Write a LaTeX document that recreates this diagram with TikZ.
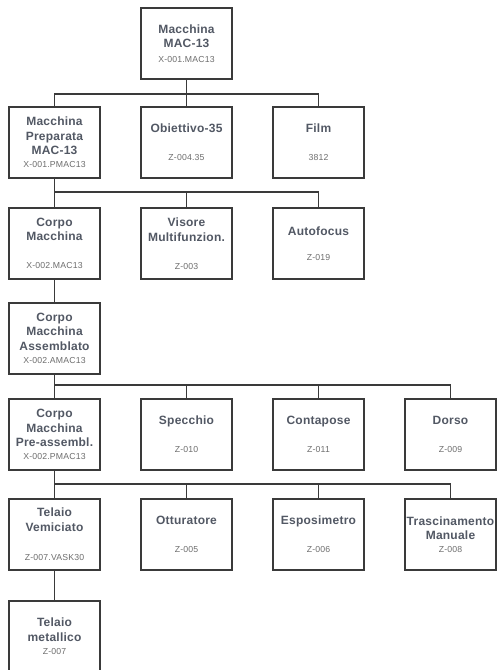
\documentclass[tikz,border=0pt]{standalone}
\usepackage{fontspec}
\setmainfont{Liberation Sans}
\definecolor{titlecol}{HTML}{525864}
\definecolor{codecol}{HTML}{6E6E6E}
\definecolor{linecol}{HTML}{3A3A3A}
\newcommand{\cd}[1]{{\fontsize{8.7}{14.5}\selectfont\mdseries\color{codecol}#1}}
\begin{document}
\begin{tikzpicture}[x=1pt,y=1pt,
  box/.style={draw=linecol, line width=1.1pt, fill=white, minimum width=91pt, minimum height=71pt,
    inner sep=0pt, align=center, text=titlecol,
    font={\fontsize{12}{14.5}\selectfont\bfseries\addfontfeatures{LetterSpace=2}}},
  conn/.style={draw=linecol, line width=1.7pt}]
\useasboundingbox (0,0) rectangle (496,-670);
% bar levels
\coordinate (b0) at (0,-94);
\coordinate (b1) at (0,-192);
\coordinate (b3) at (0,-385);
\coordinate (b4) at (0,-484);
% nodes
\node[box] (mac) at (186.5,-43.5) {Macchina\\MAC-13\\\cd{X-001.MAC13}};
\node[box] (prep) at (54.5,-142.5) {Macchina\\Preparata\\MAC-13\\[-1.5pt]\cd{X-001.PMAC13}};
\node[box] (obi) at (186.5,-142.5) {Obiettivo-35\\[13.5pt]\cd{Z-004.35}};
\node[box] (film) at (318.5,-142.5) {Film\\[13.5pt]\cd{3812}};
\node[box] (corpo) at (54.5,-243.5) {Corpo\\Macchina\\[13.5pt]\cd{X-002.MAC13}};
\node[box] (vis) at (186.5,-243.5) {Visore\\Multifunzion.\\[13.5pt]\cd{Z-003}};
\node[box] (auto) at (318.5,-243.5) {Autofocus\\[10pt]\cd{Z-019}};
\node[box] (ass) at (54.5,-338.5) {Corpo\\Macchina\\Assemblato\\[-1pt]\cd{X-002.AMAC13}};
\node[box] (pre) at (54.5,-434.5) {Corpo\\Macchina\\Pre-assembl.\\[-1.5pt]\cd{X-002.PMAC13}};
\node[box] (spe) at (186.5,-434.5) {Specchio\\[13.5pt]\cd{Z-010}};
\node[box] (cont) at (318.5,-434.5) {Contapose\\[13.5pt]\cd{Z-011}};
\node[box] (dor) at (450.5,-434.5) {Dorso\\[13.5pt]\cd{Z-009}};
\node[box] (tel) at (54.5,-534.5) {Telaio\\Vemiciato\\[15pt]\cd{Z-007.VASK30}};
\node[box] (ott) at (186.5,-534.5) {Otturatore\\[13.5pt]\cd{Z-005}};
\node[box] (esp) at (318.5,-534.5) {Esposimetro\\[13.5pt]\cd{Z-006}};
\node[box] (tra) at (450.5,-534.5) {Trascinamento\\Manuale\\[-2pt]\cd{Z-008}};
\node[box] (met) at (54.5,-636.5) {Telaio\\metallico\\[-1pt]\cd{Z-007}};
% connectors
\foreach \c in {prep,obi,film} \draw[conn] (mac.south) -- (mac.south |- b0) -| (\c.north);
\foreach \c in {corpo,vis,auto} \draw[conn] (prep.south) -- (prep.south |- b1) -| (\c.north);
\draw[conn] (corpo.south) -- (ass.north);
\foreach \c in {pre,spe,cont,dor} \draw[conn] (ass.south) -- (ass.south |- b3) -| (\c.north);
\foreach \c in {tel,ott,esp,tra} \draw[conn] (pre.south) -- (pre.south |- b4) -| (\c.north);
\draw[conn] (tel.south) -- (met.north);
\end{tikzpicture}
\end{document}
